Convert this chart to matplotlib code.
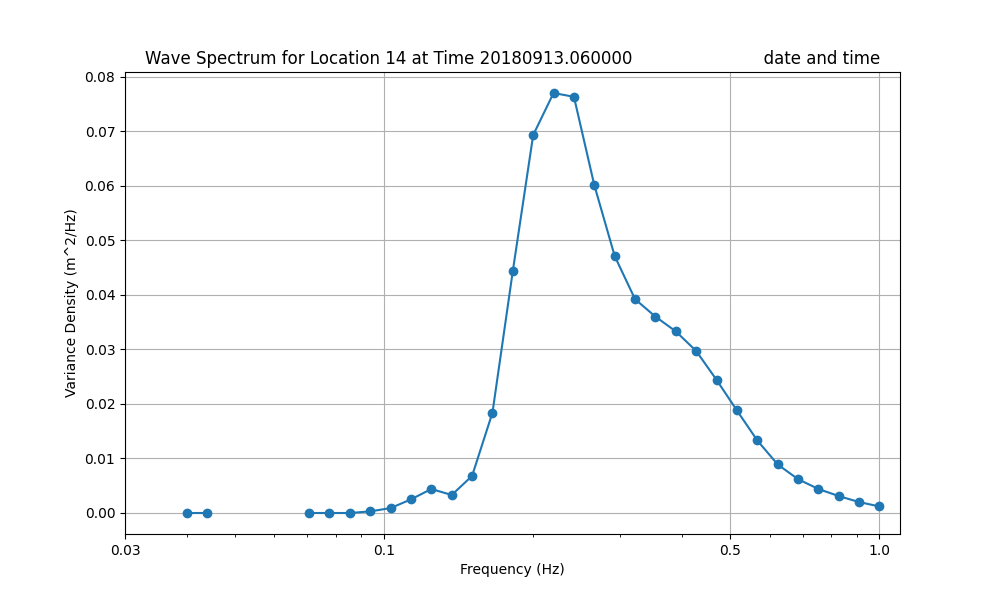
import numpy as np
import matplotlib
matplotlib.use("Agg")
import matplotlib.pyplot as plt
from matplotlib.ticker import NullFormatter

frequencies = [0.0400, 0.04397, 0.04834, 0.05314, 0.05842, 0.06422, 0.07059, 0.07760,
               0.08531, 0.09378, 0.10309, 0.11333, 0.12458, 0.13696, 0.15056, 0.16551,
               0.18195, 0.20000, 0.21986, 0.24170, 0.2657, 0.2921, 0.3211, 0.3530,
               0.3880, 0.4266, 0.4690, 0.5155, 0.5667, 0.6230, 0.6849, 0.7529,
               0.8277, 0.9099, 1.0000]
nan = float("nan")
variance_density = [0.0, 0.0, nan, nan, nan, nan, 0.0, 0.0,
                    0.0, 0.0003, 0.0009, 0.0025, 0.0044, 0.0033, 0.0068, 0.0184,
                    0.0444, 0.0693, 0.0770, 0.0763, 0.0601, 0.0471, 0.0392, 0.0360,
                    0.0333, 0.0297, 0.0244, 0.0188, 0.0133, 0.0089, 0.0062, 0.0044,
                    0.0031, 0.0020, 0.0012]
xtick_values = [0.03, 0.1, 0.5, 1.0]
xtick_labels = ["0.03", "0.1", "0.5", "1.0"]
title_text = "Wave Spectrum for Location 14 at Time 20180913.060000" + " " * 25 + "date and time"

fig, ax = plt.subplots(figsize=(10, 6), dpi=100)
ax.plot(frequencies, variance_density, "o-")
ax.set_xscale("log")
ax.set_xlim(0.03, 1.1)
ax.set_xticks(xtick_values)
ax.set_xticklabels(xtick_labels)
ax.xaxis.set_minor_formatter(NullFormatter())
ax.grid(True)
ax.set_xlabel("Frequency (Hz)")
ax.set_ylabel("Variance Density (m^2/Hz)")
ax.set_title(title_text)
fig.savefig("out.png", dpi=100)
